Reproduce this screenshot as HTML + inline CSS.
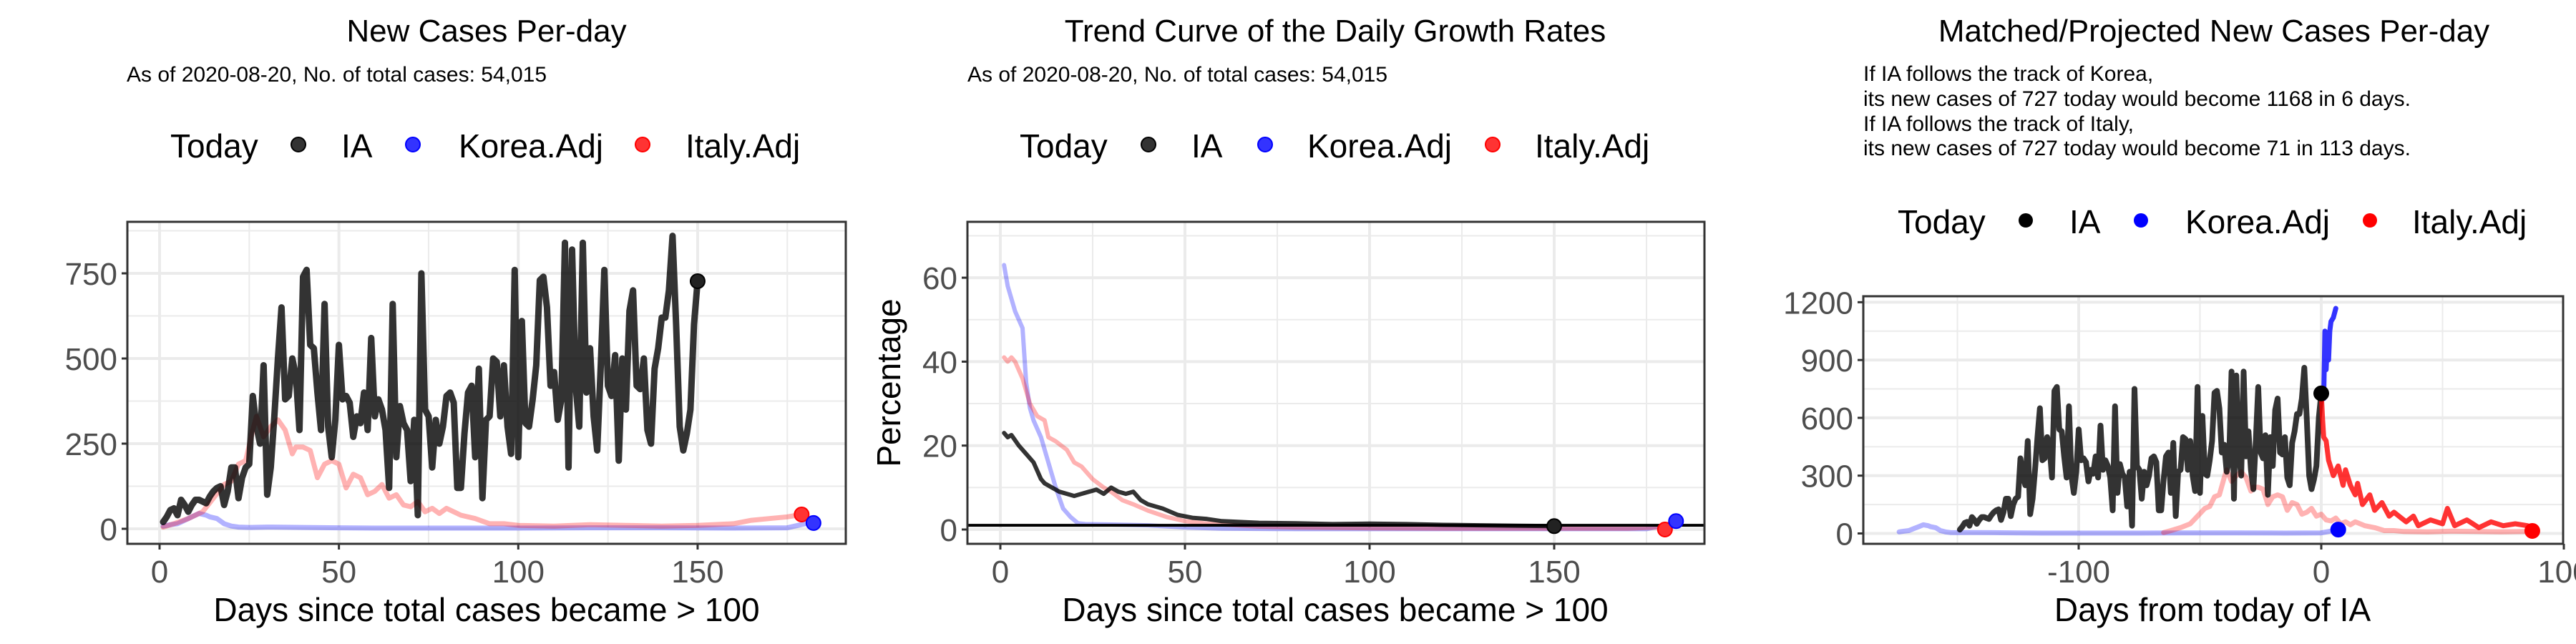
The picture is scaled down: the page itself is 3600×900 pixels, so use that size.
<!DOCTYPE html>
<html><head><meta charset="utf-8"><style>
html,body{margin:0;padding:0;background:#fff;}
svg{display:block;font-family:"Liberation Sans",Arial,sans-serif;}
</style></head><body>
<svg id="chart" width="3600" height="900" viewBox="0 0 3600 900">
<g>
<text x="680" y="58" font-size="44" text-anchor="middle">New Cases Per-day</text>
<text x="177" y="114" font-size="30">As of 2020-08-20, No. of total cases: 54,015</text>
<g>
<text x="238" y="220" font-size="46">Today</text>
<circle cx="417" cy="202" r="10" fill="#333" stroke="#000" stroke-width="2"/>
<text x="477" y="220" font-size="46">IA</text>
<circle cx="577" cy="202" r="10" fill="#33f" stroke="#00f" stroke-width="2"/>
<text x="641" y="220" font-size="46">Korea.Adj</text>
<circle cx="898" cy="202" r="10" fill="#f33" stroke="#f00" stroke-width="2"/>
<text x="958" y="220" font-size="46">Italy.Adj</text>
</g>
<text x="680" y="868" font-size="46" text-anchor="middle">Days since total cases became &gt; 100</text>
<g id="p1"></g>
</g>
<g>
<text x="1866" y="58" font-size="44" text-anchor="middle">Trend Curve of the Daily Growth Rates</text>
<text x="1352" y="114" font-size="30">As of 2020-08-20, No. of total cases: 54,015</text>
<g>
<text x="1425" y="220" font-size="46">Today</text>
<circle cx="1605" cy="202" r="10" fill="#333" stroke="#000" stroke-width="2"/>
<text x="1665" y="220" font-size="46">IA</text>
<circle cx="1768" cy="202" r="10" fill="#33f" stroke="#00f" stroke-width="2"/>
<text x="1827" y="220" font-size="46">Korea.Adj</text>
<circle cx="2086" cy="202" r="10" fill="#f33" stroke="#f00" stroke-width="2"/>
<text x="2145" y="220" font-size="46">Italy.Adj</text>
</g>
<text x="1866" y="868" font-size="46" text-anchor="middle">Days since total cases became &gt; 100</text>
<text x="0" y="0" font-size="46" text-anchor="middle" transform="translate(1258,535) rotate(-90)">Percentage</text>
<g id="p2"></g>
</g>
<g>
<text x="3094" y="58" font-size="44" text-anchor="middle">Matched/Projected New Cases Per-day</text>
<g font-size="30">
<text x="2604" y="113">If IA follows the track of Korea,</text>
<text x="2604" y="148">its new cases of 727 today would become 1168 in 6 days.</text>
<text x="2604" y="183">If IA follows the track of Italy,</text>
<text x="2604" y="217">its new cases of 727 today would become 71 in 113 days.</text>
</g>
<g>
<text x="2652" y="326" font-size="46">Today</text>
<circle cx="2831" cy="308" r="10" fill="#000"/>
<text x="2892" y="326" font-size="46">IA</text>
<circle cx="2992" cy="308" r="10" fill="#00f"/>
<text x="3054" y="326" font-size="46">Korea.Adj</text>
<circle cx="3312" cy="308" r="10" fill="#f00"/>
<text x="3371" y="326" font-size="46">Italy.Adj</text>
</g>
<text x="3092" y="868" font-size="46" text-anchor="middle">Days from today of IA</text>
<g id="p3"></g>
</g>
</svg>
<script>
// ---- data ----
const iaCases = [20,35,55,60,40,85,70,50,70,85,
85,80,75,95,110,120,125,70,110,180,
180,90,150,180,190,390,300,250,480,100,
180,330,500,650,380,390,500,450,290,740,
760,540,530,400,290,660,300,210,320,540,
380,390,370,270,330,310,400,290,560,330,
380,350,290,120,660,210,360,310,290,140,
320,40,750,350,330,180,320,250,300,390,
400,370,120,120,280,400,420,210,470,90,
320,330,500,490,330,480,300,220,760,210,
610,310,300,380,480,730,740,650,420,460,
320,380,840,180,820,420,300,840,400,530,
330,230,480,760,420,390,510,200,500,350,
640,700,420,410,500,290,250,470,530,620,
620,700,860,600,300,230,280,350,600,727];
const koreaDays = [1,3,5,7,9,11,13,14,16,18,20,22,25,30,40,50,60,80,100,120,140,160,175,178,182];
const koreaCases = [8,12,15,25,35,45,40,35,30,15,8,5,4,5,4,3,2,2,2,3,3,2,3,10,20];
const italyDays = [1,4,8,12,15,18,20,22,24,26,27,29,31,33,35,37,38,40,42,44,46,48,50,52,54,56,58,60,62,64,66,68,70,72,74,76,78,80,84,88,92,96,100,110,120,130,140,150,160,165,170,175,179];
const italyCases = [5,15,30,50,90,130,140,190,200,290,330,270,300,320,290,220,240,240,230,150,190,200,190,120,160,150,100,110,130,90,100,70,65,80,50,60,45,60,40,30,15,15,10,8,12,10,8,10,15,25,30,35,42];
const iaGDays = [1,2,3,5,7,9,11,12,14,16,18,20,22,24,26,28,30,32,34,36,38,40,44,48,52,56,60,70,80,90,100,110,120,130,140,150];
const iaGrowth = [23,22,22.5,20,18,16,12,11,10,9,8.5,8,8.5,9,9.5,8.5,10,9,8.5,9,7,6,5,3.5,2.8,2.5,2,1.6,1.5,1.3,1.4,1.3,1.1,1,0.9,0.8];
const koreaGDays = [1,2,4,6,7,8,9,11,13,15,17,19,21,23,30,40,50,60,80,100,120,150,175,180,183];
const koreaGrowth = [63,58,52,48,35,29,26,22,16,10,5,3,1.5,1.3,1.2,1,0.5,0.2,0.1,0.1,0.1,0.1,0.1,1,2];
const italyGDays = [1,2,3,4,6,8,10,12,13,15,18,20,22,25,28,30,33,36,40,45,50,55,60,70,80,100,120,150,170,178,180];
const italyGrowth = [41,40,41,40,36,30,27,26,22,21,19,16,15,12,10,9,7,6,4.5,3,2,1.5,1.2,0.7,0.5,0.3,0.2,0.2,0.2,0.5,0];
const koreaProjDays = [0,1,1.5,2,2.5,3,3.5,4,5,6];
const koreaProj = [727,700,1050,850,1000,900,1050,1100,1120,1168];
const italyProjDays = [0,0.5,1,2,3,5,7,9,10,12,14,15,17,20,22,25,28,30,33,35,38,40,45,50,52,55,60,65,70,75,80,85,87];
const italyProj = [727,600,500,480,380,300,350,250,330,250,200,260,150,200,120,160,90,110,80,60,90,40,70,50,130,40,70,30,60,40,50,40,13];
const iaShift = -150, koreaShift = -175, italyShift = -66;
const p1XTicks = [0,50,100,150], p1XMinor = [25,75,125,175];
const p1YTicks = [0,250,500,750], p1YMinor = [125,375,625,875];
const p2XTicks = [0,50,100,150], p2XMinor = [25,75,125,175];
const p2YTicks = [0,20,40,60], p2YMinor = [10,30,50,70];
const p3XTicks = [-100,0,100], p3XMinor = [-150,-50,50];
const p3YTicks = [0,300,600,900,1200], p3YMinor = [150,450,750,1050];

const NS = 'http://www.w3.org/2000/svg';
function mk(parent, tag, attrs){const e=document.createElementNS(NS,tag);for(const k in attrs)e.setAttribute(k,attrs[k]);parent.appendChild(e);return e;}

function panel(id, box, xs, ys, xT, xM, yT, yM){
  const g=document.getElementById(id);
  const clipId=id+'clip';
  const defs=mk(g,'defs',{});
  const cp=mk(defs,'clipPath',{id:clipId});
  mk(cp,'rect',{x:box.l,y:box.t,width:box.r-box.l,height:box.b-box.t});
  const grid=mk(g,'g',{});
  
  
  xM.forEach(v=>{const l=mk(grid,'line',{x1:xs(v),x2:xs(v),y1:box.t,y2:box.b,stroke:'#ebebeb','stroke-width':2});
    });
  yM.forEach(v=>{const y=ys(v);if(y<box.t||y>box.b)return;const l=mk(grid,'line',{x1:box.l,x2:box.r,y1:y,y2:y,stroke:'#ebebeb','stroke-width':2});
    });
  xT.forEach(v=>{const x=xs(v);if(x>=box.l&&x<=box.r){const l=mk(grid,'line',{x1:x,x2:x,y1:box.t,y2:box.b,stroke:'#ebebeb','stroke-width':4});
    }
    const tk=mk(g,'line',{x1:x,x2:x,y1:box.b,y2:box.b+8,stroke:'#333','stroke-width':3});
    
    const t=mk(g,'text',{x:x,y:814,'font-size':44,fill:'#4d4d4d','text-anchor':'middle'});t.textContent=v;
    });
  yT.forEach(v=>{const y=ys(v);const l=mk(grid,'line',{x1:box.l,x2:box.r,y1:y,y2:y,stroke:'#ebebeb','stroke-width':4});
    
    const tk=mk(g,'line',{x1:box.l-8,x2:box.l,y1:y,y2:y,stroke:'#333','stroke-width':3});
    
    const t=mk(g,'text',{x:box.l-14,y:y+16,'font-size':44,fill:'#4d4d4d','text-anchor':'end'});t.textContent=v;
    });
  const data=mk(g,'g',{'clip-path':'url(#'+clipId+')'});
  
  
  const fr=mk(g,'rect',{x:box.l,y:box.t,width:box.r-box.l,height:box.b-box.t,fill:'none',stroke:'#333','stroke-width':3});
  
  return {data,xs,ys};
}
function line(p, xv, yv, shift, color, w, name, maxX){
  let d='';let first=true;
  for(let i=0;i<xv.length;i++){const xx=xv[i]+shift;if(maxX!==undefined&&xx>maxX)break;
    d+=(first?'M':'L')+p.xs(xx).toFixed(1)+','+p.ys(yv[i]).toFixed(1);first=false;}
  const e=mk(p.data,'path',{d:d,fill:'none',stroke:color,'stroke-width':w,'stroke-linejoin':'round','stroke-linecap':'round'});
  
  
}
function dot(p,x,y,fill,stroke,name){
  const e=mk(p.data,'circle',{cx:p.xs(x),cy:p.ys(y),r:10,fill:fill,stroke:stroke,'stroke-width':2});
  
  
}
const iaDays = iaCases.map((v,i)=>i+1);

// panel 1
const P1=panel('p1',{l:178,r:1182,t:310,b:760},v=>223+v*5.013,v=>739-v*0.476,p1XTicks,p1XMinor,p1YTicks,p1YMinor);
line(P1,koreaDays,koreaCases,0,'rgba(0,0,255,0.3)',7,'korea-line');
line(P1,italyDays,italyCases,0,'rgba(255,0,0,0.3)',7,'italy-line');
line(P1,iaDays,iaCases,0,'rgba(0,0,0,0.8)',9,'ia-line');
dot(P1,iaDays[iaDays.length-1],iaCases[iaCases.length-1],'#222','#000','ia-today-dot');
dot(P1,italyDays[italyDays.length-1],italyCases[italyCases.length-1],'#f33','#f00','italy-today-dot');
dot(P1,koreaDays[koreaDays.length-1]+0.3,koreaCases[koreaCases.length-1]-3,'#33f','#00f','korea-today-dot');

// panel 2
const P2=panel('p2',{l:1352,r:2382,t:310,b:760},v=>1398+v*5.16,v=>740-v*5.865,p2XTicks,p2XMinor,p2YTicks,p2YMinor);
line(P2,koreaGDays,koreaGrowth,0,'rgba(0,0,255,0.3)',6,'korea-growth-line');
line(P2,italyGDays,italyGrowth,0,'rgba(255,0,0,0.3)',6,'italy-growth-line');
line(P2,iaGDays,iaGrowth,0,'rgba(0,0,0,0.8)',6,'ia-growth-line');
const hl=mk(P2.data,'line',{x1:1352,x2:2382,y1:P2.ys(1),y2:P2.ys(1),stroke:'#000','stroke-width':4});


dot(P2,iaGDays[iaGDays.length-1],iaGrowth[iaGrowth.length-1],'#222','#000','ia-today-dot');
dot(P2,italyGDays[italyGDays.length-1],italyGrowth[italyGrowth.length-1],'#f33','#f00','italy-today-dot');
dot(P2,koreaGDays[koreaGDays.length-1],koreaGrowth[koreaGrowth.length-1],'#33f','#00f','korea-today-dot');

// panel 3
const P3=panel('p3',{l:2604,r:3582,t:414,b:760},v=>3244+v*3.39,v=>745.5-v*0.2693,p3XTicks,p3XMinor,p3YTicks,p3YMinor);
line(P3,koreaDays,koreaCases,koreaShift,'rgba(0,0,255,0.3)',7,'korea-matched-line');
line(P3,italyDays,italyCases,italyShift,'rgba(255,0,0,0.3)',7,'italy-matched-line',88);
line(P3,iaDays,iaCases,iaShift,'rgba(0,0,0,0.8)',8,'ia-line');
line(P3,koreaProjDays,koreaProj,0,'rgba(0,0,255,0.8)',7,'korea-projection-line');
line(P3,italyProjDays,italyProj,0,'rgba(255,0,0,0.8)',7,'italy-projection-line');
dot(P3,0,iaCases[iaCases.length-1],'#000','#000','ia-today-dot');
dot(P3,koreaDays[koreaDays.length-1]+koreaShift,koreaCases[koreaCases.length-1],'#00f','#00f','korea-today-dot');
dot(P3,italyProjDays[italyProjDays.length-1],italyProj[italyProj.length-1],'#f00','#f00','italy-today-dot');
</script>
</body></html>
